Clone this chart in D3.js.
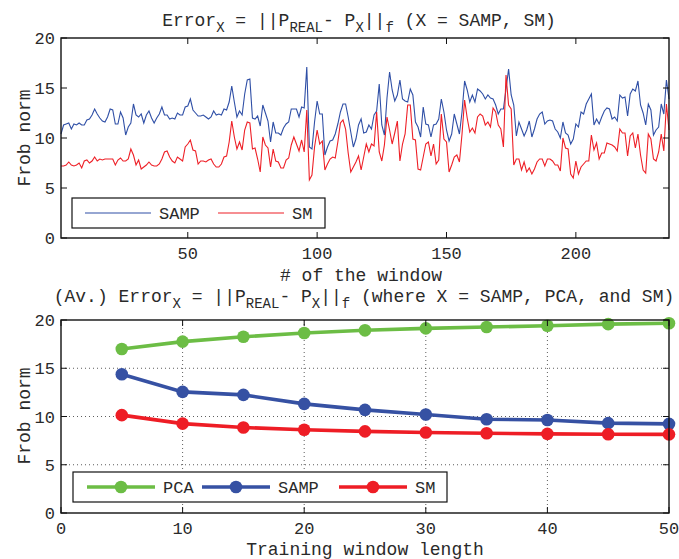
<!DOCTYPE html>
<html><head><meta charset="utf-8">
<script src="https://cdn.jsdelivr.net/npm/d3@7/dist/d3.min.js"></script>
<style>
body{margin:0;background:#fff;}
svg text{font-family:"Liberation Mono","DejaVu Sans Mono",monospace;fill:#2a2a2a;}
</style></head><body>
<svg id="c" width="679" height="559"></svg>
<script>
// ---- Top chart data: error per window ----
const sampSeries = [
10.4,11.3,11.4,11.5,10.9,11.4,11.3,11.5,11.3,11.3,11.8,11.9,12.3,12.9,12.4,12.0,11.7,11.6,12.1,12.9,12.8,11.4,11.4,12.6,12.0,10.3,11.1,11.5,13.4,12.3,12.1,12.4,11.5,12.3,12.7,12.0,11.5,12.0,12.4,13.1,12.3,12.3,11.9,12.0,11.9,12.5,12.3,
12.3,13.1,13.2,13.9,12.8,12.5,12.2,12.2,12.3,12.1,11.9,12.1,12.7,12.3,12.4,12.3,12.9,12.8,13.6,15.2,13.6,12.1,12.7,12.3,14.4,15.8,15.9,12.0,11.9,12.2,11.2,13.3,12.5,11.7,9.6,11.6,10.5,10.5,10.3,11.0,11.4,11.6,12.9,12.9,12.9,12.1,13.1,
13.0,17.1,9.1,8.9,11.6,13.7,12.4,12.4,8.3,9.1,9.7,9.8,10.4,11.4,12.6,13.4,13.4,12.1,10.6,9.1,9.9,11.3,11.9,10.5,10.6,11.3,10.9,12.3,12.7,15.4,11.3,10.3,14.0,16.6,14.8,13.7,14.3,15.8,13.9,13.7,13.6,14.9,14.3,11.6,11.1,10.1,13.1,
11.4,11.3,10.1,11.3,11.4,11.9,13.9,12.6,10.8,9.7,10.4,12.4,11.4,10.4,12.6,15.7,14.8,13.6,14.3,13.6,14.9,14.7,14.4,13.9,14.3,14.0,13.9,13.3,12.4,12.9,12.9,14.9,16.9,14.3,13.3,10.2,11.6,10.9,10.2,10.8,11.7,10.1,10.9,11.9,12.4,12.6,11.4,
11.7,11.8,11.7,10.9,10.6,10.0,11.6,10.5,10.3,9.4,9.9,11.4,11.1,12.6,12.4,13.4,13.9,14.4,11.3,11.9,11.4,12.1,12.7,13.0,12.9,11.9,12.1,11.7,14.3,14.0,14.1,12.2,14.4,14.9,14.7,15.7,13.3,12.5,11.3,13.4,12.8,10.3,10.8,11.1,13.4,12.4,15.8,13.9
];
const smSeries = [
7.2,7.2,7.3,7.6,7.3,7.2,7.3,7.5,7.0,7.7,7.8,7.5,7.7,8.1,7.7,7.9,7.8,7.9,7.9,7.9,7.9,7.3,7.8,8.0,7.7,7.7,7.9,8.9,8.3,7.3,7.8,6.9,7.1,7.3,7.6,7.3,7.2,7.2,7.4,7.9,8.6,8.7,8.1,7.7,7.5,8.1,7.9,
7.7,9.1,9.4,9.8,8.8,8.7,7.4,7.7,7.7,7.6,7.8,7.9,7.4,7.1,7.1,7.4,8.1,8.2,9.6,11.7,10.1,8.9,9.6,8.8,10.8,11.6,11.5,8.9,9.0,7.9,6.6,10.1,9.3,9.0,7.1,8.9,7.7,7.6,7.0,7.0,7.8,8.0,9.3,10.1,9.4,8.7,9.8,
8.6,12.8,5.8,6.3,9.1,10.8,9.4,9.7,6.8,7.4,7.9,8.1,8.0,9.6,11.5,11.8,10.9,8.5,6.6,7.1,7.6,8.2,6.8,8.1,9.4,8.6,9.4,9.2,12.6,8.6,7.7,9.3,12.1,10.8,9.4,10.5,11.7,7.7,9.4,10.4,13.3,13.3,9.9,9.8,6.9,6.8,8.1,
9.4,9.6,8.2,9.4,7.4,7.8,12.4,9.9,9.6,6.6,7.3,8.1,8.3,7.6,10.4,13.8,12.0,10.6,11.0,10.5,12.1,12.4,12.2,11.3,11.6,11.1,13.0,12.6,11.3,10.9,9.1,16.3,13.3,12.9,7.3,7.9,7.9,6.8,7.6,6.6,7.0,6.4,6.9,7.6,7.9,7.9,7.2,
7.9,7.9,7.7,7.3,7.3,6.7,10.0,9.0,8.9,6.4,6.0,7.7,6.4,7.1,7.4,7.7,7.7,10.3,8.8,9.5,7.9,8.5,8.5,9.5,9.4,9.3,9.1,8.7,10.9,10.5,10.5,8.2,10.2,10.5,9.0,10.4,8.3,6.8,6.5,10.4,9.9,7.9,7.7,8.6,10.4,8.7,13.4,10.8
];
const windowTicks = [50, 100, 150, 200];
const normTicks = [0, 5, 10, 15, 20];

// ---- Bottom chart data: average error vs training window length ----
const trainLengths = [5, 10, 15, 20, 25, 30, 35, 40, 45, 50];
const pcaAvg  = [17.0, 17.76, 18.26, 18.66, 18.93, 19.13, 19.27, 19.4, 19.57, 19.67];
const sampAvg = [14.38, 12.55, 12.24, 11.31, 10.69, 10.21, 9.72, 9.64, 9.31, 9.24];
const smAvg   = [10.14, 9.26, 8.86, 8.62, 8.46, 8.34, 8.26, 8.2, 8.16, 8.15];
const trainTicks = [0, 10, 20, 30, 40, 50];

const COL = {blueThin:"#2f4fa6", redThin:"#ee1f26", green:"#6cbd45", blue:"#3651a3", red:"#ee1d25"};
const FS = 17, TFS = 18, SUB = 14;
const svg = d3.select("#c");

function richText(g, x, y, parts){
  const t = g.append("text").attr("x", x).attr("y", y).attr("text-anchor", "middle")
    .style("font-size", TFS+"px");
  let shifted = false;
  parts.forEach(p => {
    const ts = t.append("tspan").text(p.t);
    if (p.sub){ ts.style("font-size", SUB+"px"); if (!shifted){ ts.attr("dy", 6); shifted = true; } }
    else if (shifted){ ts.attr("dy", -6); shifted = false; }
  });
  return t;
}

function grid(g, x, y, L, R, T, B, xt, yt){
  g.selectAll(null).data(xt.filter(v => x(v) > L+1 && x(v) < R-1)).enter().append("line")
    .attr("x1", d => x(d)).attr("x2", d => x(d)).attr("y1", T).attr("y2", B)
    .attr("stroke", "#333").attr("stroke-width", 0.8).attr("stroke-dasharray", "1,3");
  g.selectAll(null).data(yt.filter(v => y(v) > T+1 && y(v) < B-1)).enter().append("line")
    .attr("x1", L).attr("x2", R).attr("y1", d => y(d)).attr("y2", d => y(d))
    .attr("stroke", "#333").attr("stroke-width", 0.8).attr("stroke-dasharray", "1,3");
}
function box(g, x, y, L, R, T, B, xt, yt){
  const tl = 6;
  g.selectAll(null).data(xt).enter().append("line").attr("x1", d=>x(d)).attr("x2", d=>x(d))
    .attr("y1", B).attr("y2", B-tl).attr("stroke","#111").attr("stroke-width",1);
  g.selectAll(null).data(xt).enter().append("line").attr("x1", d=>x(d)).attr("x2", d=>x(d))
    .attr("y1", T).attr("y2", T+tl).attr("stroke","#111").attr("stroke-width",1);
  g.selectAll(null).data(yt).enter().append("line").attr("y1", d=>y(d)).attr("y2", d=>y(d))
    .attr("x1", L).attr("x2", L+tl).attr("stroke","#111").attr("stroke-width",1);
  g.selectAll(null).data(yt).enter().append("line").attr("y1", d=>y(d)).attr("y2", d=>y(d))
    .attr("x1", R).attr("x2", R-tl).attr("stroke","#111").attr("stroke-width",1);
  g.append("rect").attr("x", L).attr("y", T).attr("width", R-L).attr("height", B-T)
    .attr("fill","none").attr("stroke","#111").attr("stroke-width",1.4);
  g.selectAll(null).data(xt).enter().append("text").attr("x", d=>x(d)).attr("y", B+21)
    .attr("text-anchor","middle").style("font-size", FS+"px").text(d=>d);
  g.selectAll(null).data(yt).enter().append("text").attr("x", L-6).attr("y", d=>y(d)+6)
    .attr("text-anchor","end").style("font-size", FS+"px").text(d=>d);
}

// ===== Top chart =====
{
  const L = 61, R = 669, T = 38, B = 238;
  const N = sampSeries.length;
  const x = d3.scaleLinear().domain([1, N]).range([L, R]);
  const y = d3.scaleLinear().domain([0, 20]).range([B, T]);
  const g = svg.append("g");
  const line = d3.line().x((d,i)=>x(i+1)).y(d=>y(d));
  g.append("path").datum(sampSeries).attr("d", line).attr("fill","none")
    .attr("stroke", COL.blueThin).attr("stroke-width", 1.1);
  g.append("path").datum(smSeries).attr("d", line).attr("fill","none")
    .attr("stroke", COL.redThin).attr("stroke-width", 1.1);
  box(g, x, y, L, R, T, B, windowTicks, normTicks);
  richText(g, 359, 26, [{t:"Error"},{t:"X",sub:true},{t:" = ||P"},{t:"REAL",sub:true},{t:"- P"},{t:"X",sub:true},{t:"||"},{t:"f",sub:true},{t:" (X = SAMP, SM)"}]);
  g.append("text").attr("x", 361).attr("y", 281).attr("text-anchor","middle").style("font-size", TFS+"px").text("# of the window");
  g.append("text").attr("transform", "translate(30,138) rotate(-90)").attr("text-anchor","middle").style("font-size", TFS+"px").text("Frob norm");
  const lg = g.append("g");
  lg.append("rect").attr("x", 72).attr("y", 198).attr("width", 253).attr("height", 30)
    .attr("fill","#fff").attr("stroke","#111").attr("stroke-width",1.2);
  const items = [{n:"SAMP", c:COL.blueThin, x0:85}, {n:"SM", c:COL.redThin, x0:218}];
  items.forEach(it => {
    lg.append("line").attr("x1", it.x0).attr("x2", it.x0+66).attr("y1", 213).attr("y2", 213)
      .attr("stroke", it.c).attr("stroke-width", 1.1);
    lg.append("text").attr("x", it.x0+74).attr("y", 219).style("font-size", FS+"px").text(it.n);
  });
}

// ===== Bottom chart =====
{
  const L = 61, R = 669, T = 320, B = 513;
  const x = d3.scaleLinear().domain([0, 50]).range([L, R]);
  const y = d3.scaleLinear().domain([0, 20]).range([B, T]);
  const g = svg.append("g");
  grid(g, x, y, L, R, T, B, trainTicks, normTicks);
  const series = [{n:"PCA", v:pcaAvg, c:COL.green}, {n:"SAMP", v:sampAvg, c:COL.blue}, {n:"SM", v:smAvg, c:COL.red}];
  const line = d3.line().x((d,i)=>x(trainLengths[i])).y(d=>y(d));
  series.forEach(s => {
    g.append("path").datum(s.v).attr("d", line).attr("fill","none").attr("stroke", s.c).attr("stroke-width", 3.6);
    g.selectAll(null).data(s.v).enter().append("circle")
      .attr("cx", (d,i)=>x(trainLengths[i])).attr("cy", d=>y(d)).attr("r", 6.3).attr("fill", s.c);
  });
  box(g, x, y, L, R, T, B, trainTicks, normTicks);
  richText(g, 364, 302, [{t:"(Av.) Error"},{t:"X",sub:true},{t:" = ||P"},{t:"REAL",sub:true},{t:"- P"},{t:"X",sub:true},{t:"||"},{t:"f",sub:true},{t:" (where X = SAMP, PCA, and SM)"}]);
  g.append("text").attr("x", 365).attr("y", 555).attr("text-anchor","middle").style("font-size", TFS+"px").text("Training window length");
  g.append("text").attr("transform", "translate(30,416) rotate(-90)").attr("text-anchor","middle").style("font-size", TFS+"px").text("Frob norm");
  const lg = g.append("g");
  lg.append("rect").attr("x", 73).attr("y", 472).attr("width", 374).attr("height", 30)
    .attr("fill","#fff").attr("stroke","#111").attr("stroke-width",1.2);
  const lx = [87, 202, 339];
  series.forEach((s, i) => {
    lg.append("line").attr("x1", lx[i]).attr("x2", lx[i]+68).attr("y1", 487).attr("y2", 487)
      .attr("stroke", s.c).attr("stroke-width", 3.6);
    lg.append("circle").attr("cx", lx[i]+34).attr("cy", 487).attr("r", 6.3).attr("fill", s.c);
    lg.append("text").attr("x", lx[i]+76).attr("y", 493).style("font-size", FS+"px").text(s.n);
  });
}
</script>
</body></html>
